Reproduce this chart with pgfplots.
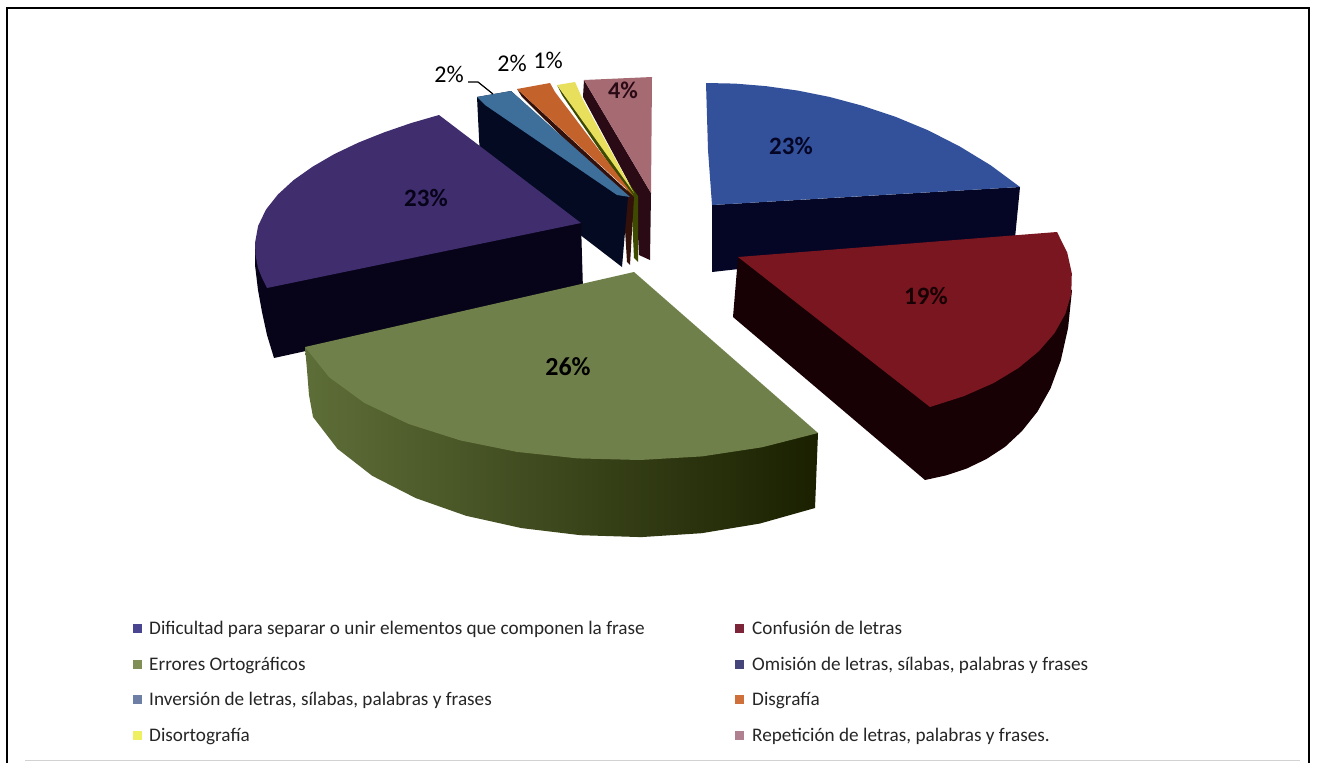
\documentclass[border=0pt]{standalone}
\usepackage{fontspec}
\setmainfont{Carlito}
\usepackage{pgfplots}
\pgfplotsset{compat=1.18}
\definecolor{cBlue}{HTML}{33519A}
\definecolor{cBlueS}{HTML}{050526}
\definecolor{cRed}{HTML}{7A1620}
\definecolor{cRedS}{HTML}{170104}
\definecolor{cGreen}{HTML}{70804A}
\definecolor{cGreenA}{HTML}{5E6E38}
\definecolor{cGreenM}{HTML}{404B20}
\definecolor{cGreenB}{HTML}{1A2000}
\definecolor{cPurple}{HTML}{3F2D6E}
\definecolor{cPurpleS}{HTML}{070318}
\definecolor{cInv}{HTML}{3E6F9A}
\definecolor{cInvS}{HTML}{040A22}
\definecolor{cDis}{HTML}{C4622C}
\definecolor{cDisS}{HTML}{33100A}
\definecolor{cYel}{HTML}{E8E05C}
\definecolor{cYelS}{HTML}{3D4A00}
\definecolor{cRep}{HTML}{A66A73}
\definecolor{cRepS}{HTML}{2A0A15}
\definecolor{lBlue}{HTML}{4A4590}
\definecolor{lRed}{HTML}{7E2438}
\definecolor{lGreen}{HTML}{7F8F55}
\definecolor{lPurple}{HTML}{45457A}
\definecolor{lInv}{HTML}{6E7FA5}
\definecolor{lDis}{HTML}{CF6F3A}
\definecolor{lYel}{HTML}{EEF060}
\definecolor{lRep}{HTML}{AE8090}
\pgfplotsset{slice/.style={draw=none,fill=#1,forget plot,mark=none}}
\tikzset{lt/.style={anchor=base west,inner sep=0pt,font=\fontsize{19.2}{21}\selectfont,text=black!85}}
\begin{document}
\begin{tikzpicture}
\begin{axis}[
  width=1319pt,height=763pt,scale only axis,
  xmin=0,xmax=1319,ymin=0,ymax=763,y dir=reverse,
  hide axis,clip=true,
]
% page background
\addplot[slice=white] coordinates {(0,0)(1319,0)(1319,763)(0,763)} -- cycle;

% Dificultad: wall, then top face
\addplot[slice=cBlueS] coordinates {(712,205)(712,272)(1015,238)(1020,187)} -- cycle;
\addplot[slice=cBlue] coordinates {(706,83)(735.1,83.6)(765.7,86.1)(797.3,90.5)(829.8,97)(862.6,105.8)(895.5,116.8)(928.1,130.3)(959.8,146.5)(990.7,165.3)(1020,187)(847,197)(712,205)(708,150)} -- cycle;

% small slices behind the purple one
\addplot[slice=cRepS] coordinates {(584,80)(583,97)(636,196)(639,255)(650,260)(651,193)} -- cycle;
\addplot[slice=cRep] coordinates {(584,80)(652,77)(651,193)} -- cycle;
\addplot[slice=cYelS] coordinates {(557,85)(562,95)(631,196)(634,258)(638,262)(638,196)} -- cycle;
\addplot[slice=cYel] coordinates {(557,85)(575,82)(583,100)(634,193)} -- cycle;
\addplot[slice=cDisS] coordinates {(517,89)(522,97)(623,197)(627,262)(630,265)(634,197)} -- cycle;
\addplot[slice=cDis] coordinates {(517,89)(550,83)(555,92)(633,195)} -- cycle;
\addplot[slice=cInvS] coordinates {(477,97)(480,158)(622,267)(628,197)(511,91)} -- cycle;
\addplot[slice=cInv] coordinates {(477,97)(511,91)(630,197)(617,195)(485,105)} -- cycle;

% Omision
\addplot[slice=cPurpleS] coordinates {(255,243)(255,265)(258,290)(262,312)(267,335)(274,358)(583,290)(581,223)} -- cycle;
\addplot[slice=cPurple] coordinates {(439,115)(411,123.1)(384,132.4)(358.2,142.7)(334.1,154.2)(312.6,166.7)(293.6,180.1)(277.9,194.5)(265.9,209.7)(258.1,226)(255,243)(255.5,255)(258,268)(262,278)(267,288)(581,223)} -- cycle;

% Confusion
\addplot[slice=cRedS] coordinates {(738,257)(733,317)(925,480)(946,475.4)(966.5,468.6)(986.3,459.1)(1005,446.9)(1022,431)(1037.4,411.7)(1050.5,388.4)(1060.8,360.4)(1068.1,327.8)(1072,290)} -- cycle;
\addplot[slice=cRed] coordinates {(738,257)(1057,232)(1067.2,252.5)(1071.8,273.3)(1071.3,293.8)(1065.4,313.7)(1054.6,333)(1038.9,351.1)(1018.5,368)(993.5,383.1)(964,396.1)(930,407)} -- cycle;

% Errores: wall shaded from left to right, then top face
\addplot[draw=none,left color=cGreenA,middle color=cGreenM,right color=cGreenB,forget plot,mark=none] coordinates {(305,347)(307,370)(309,395)(313,417)(337.4,448.7)(372.2,475.8)(415.8,498.1)(466.1,515.8)(521.6,528.1)(580.5,535.2)(641.1,537.1)(701.6,533.2)(760,523.5)(815,508)(818,433)} -- cycle;
\addplot[slice=cGreen] coordinates {(634,272)(818,433)(762,447.3)(702,456.4)(640,460)(577.8,458.4)(517,451.9)(460.3,440.4)(408.7,424)(364.3,402.9)(329.1,377.2)(305,347)} -- cycle;

% value labels
\node[text=cBlueS,font=\fontsize{25}{27}\selectfont\bfseries] at (axis cs:791,146) {23\%};
\node[text=cRedS,font=\fontsize{25}{27}\selectfont\bfseries] at (axis cs:926,296) {19\%};
\node[text=black,font=\fontsize{26}{28}\selectfont\bfseries] at (axis cs:568,367) {26\%};
\node[text=cPurpleS,font=\fontsize{25}{27}\selectfont\bfseries] at (axis cs:426,198) {23\%};
\node[text=cRepS,font=\fontsize{24}{26}\selectfont\bfseries] at (axis cs:623,90) {4\%};
\node[text=black,font=\fontsize{24}{26}\selectfont] at (axis cs:449,74) {2\%};
\node[text=black,font=\fontsize{24}{26}\selectfont] at (axis cs:512,63) {2\%};
\node[text=black,font=\fontsize{24}{26}\selectfont] at (axis cs:548,60) {1\%};
\addplot[black,line width=1.2pt,forget plot,mark=none] coordinates {(468,82)(478,82)(493,94)};

% legend keys
\addplot[only marks,mark=square*,mark size=4.2pt,color=lBlue,forget plot] coordinates {(137,628)};
\addplot[only marks,mark=square*,mark size=4.2pt,color=lGreen,forget plot] coordinates {(137,664)};
\addplot[only marks,mark=square*,mark size=4.2pt,color=lInv,forget plot] coordinates {(137,699)};
\addplot[only marks,mark=square*,mark size=4.2pt,color=lYel,forget plot] coordinates {(137,735)};
\addplot[only marks,mark=square*,mark size=4.2pt,color=lRed,forget plot] coordinates {(739,628)};
\addplot[only marks,mark=square*,mark size=4.2pt,color=lPurple,forget plot] coordinates {(739,664)};
\addplot[only marks,mark=square*,mark size=4.2pt,color=lDis,forget plot] coordinates {(739,699)};
\addplot[only marks,mark=square*,mark size=4.2pt,color=lRep,forget plot] coordinates {(739,735)};

% legend texts
\node[lt] at (axis cs:149,634) {Dificultad para separar o unir elementos que componen la frase};
\node[lt] at (axis cs:149,670) {Errores Ortográficos};
\node[lt] at (axis cs:149,705) {Inversión de letras, sílabas, palabras y frases};
\node[lt] at (axis cs:149,741) {Disortografía};
\node[lt] at (axis cs:752,634) {Confusión de letras};
\node[lt] at (axis cs:752,670) {Omisión de letras, sílabas, palabras y frases};
\node[lt] at (axis cs:752,705) {Disgrafía};
\node[lt] at (axis cs:752,741) {Repetición de letras, palabras y frases.};

% outer frame
\addplot[black,line width=2.4pt,forget plot,mark=none] coordinates {(7,763)(7,8)(1309,8)(1309,763)};
\addplot[gray!35,line width=1pt,forget plot,mark=none] coordinates {(25,760)(1300,760)};
\end{axis}
\end{tikzpicture}
\end{document}
